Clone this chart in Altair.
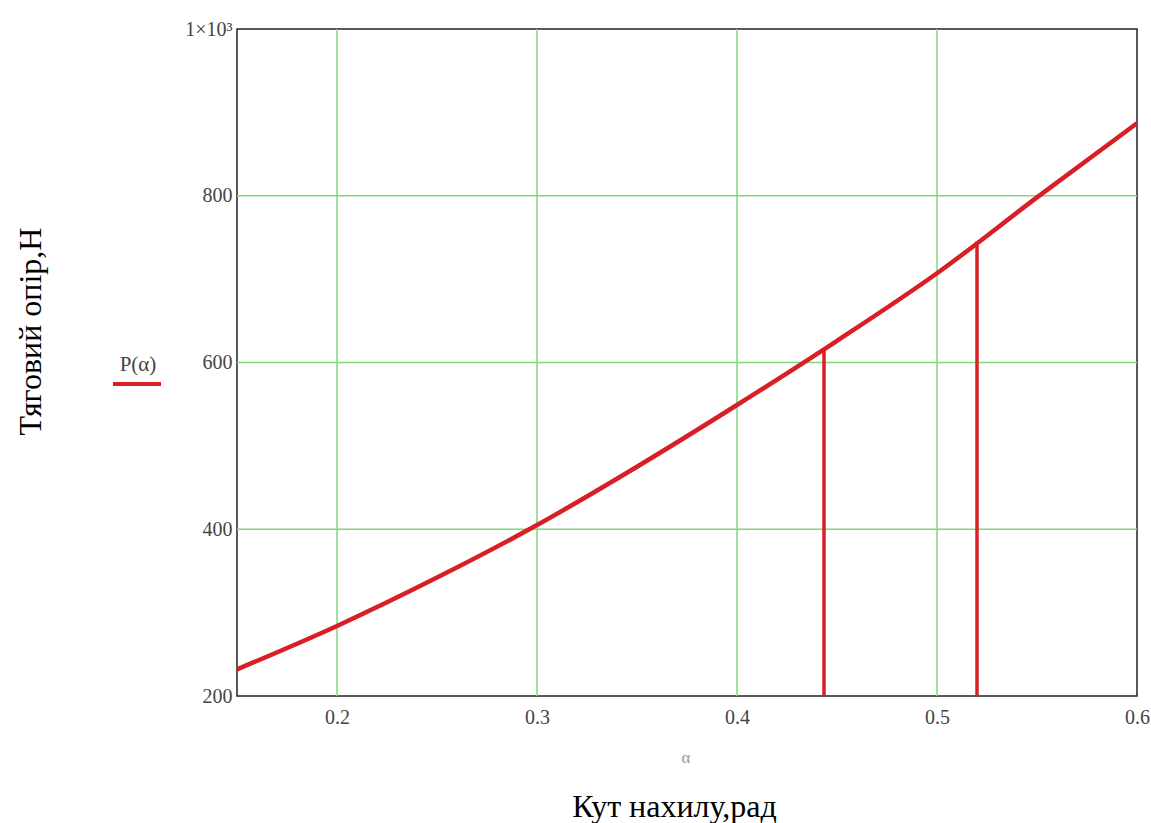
import altair as alt
import pandas as pd

# Curve P(alpha)
alpha = [0.15, 0.2, 0.25, 0.3, 0.35, 0.4, 0.45, 0.5, 0.55, 0.6]
P = [232, 284, 342, 405, 475, 549, 626, 707, 798, 887]

# Marked vertical lines
mark_alpha = [0.4435, 0.52]
mark_P = [617, 745]

# Grid positions and tick labels
grid_x = [0.2, 0.3, 0.4, 0.5]
grid_y = [400, 600, 800]
x_ticks = [0.2, 0.3, 0.4, 0.5, 0.6]
y_ticks = [200, 400, 600, 800, 1000]

FONT = "Liberation Serif"
RED = "#d81f26"
GREEN = "#7fd87f"

df = pd.DataFrame({"alpha": alpha, "P": P})
dv = pd.DataFrame({"alpha": mark_alpha, "P": mark_P, "base": [200] * len(mark_alpha)})
dgx = pd.DataFrame({"gx": grid_x})
dgy = pd.DataFrame({"gy": grid_y})

xs = alt.Scale(domain=[0.15, 0.6], nice=False, zero=False)
ys = alt.Scale(domain=[200, 1000], nice=False, zero=False)

x_axis = alt.Axis(values=x_ticks, format=".1f", grid=False, ticks=False, domain=False,
                  labelFlush=False, labelPadding=11, labelFont=FONT, labelFontSize=20,
                  labelColor="#444", title="Кут нахилу,рад", titleFont=FONT,
                  titleFontSize=32, titleFontWeight="normal", titleColor="#000",
                  titleX=437, titleAlign="center",
                  titleY=120, titleBaseline="alphabetic")
y_axis = alt.Axis(values=y_ticks, grid=False, ticks=False, domain=False,
                  labelFlush=False, labelPadding=5, labelFont=FONT, labelFontSize=20,
                  labelColor="#444",
                  labelExpr="datum.value == 1000 ? '1×10³' : datum.label",
                  title="Тяговий опір,Н", titleFont=FONT, titleFontSize=32,
                  titleFontWeight="normal", titleColor="#000", titleAngle=270,
                  titleX=-207, titleY=302, titleAlign="center", titleBaseline="middle")

gx = alt.Chart(dgx).mark_rule(color=GREEN, strokeWidth=1.5).encode(
    x=alt.X("gx:Q", scale=xs, axis=x_axis))
gy = alt.Chart(dgy).mark_rule(color=GREEN, strokeWidth=1.5).encode(
    y=alt.Y("gy:Q", scale=ys, axis=y_axis))

line = alt.Chart(df).mark_line(color=RED, strokeWidth=4.5, interpolate="monotone").encode(
    x=alt.X("alpha:Q", scale=xs),
    y=alt.Y("P:Q", scale=ys))

vlines = alt.Chart(dv).mark_rule(color=RED, strokeWidth=3.5).encode(
    x=alt.X("alpha:Q", scale=xs),
    y=alt.Y("base:Q", scale=ys),
    y2="P:Q")

legend_text = alt.Chart(pd.DataFrame({"t": ["P(α)"]})).mark_text(
    font=FONT, fontSize=21, color="#444", align="center", baseline="middle").encode(
    x=alt.value(-99), y=alt.value(336), text="t:N")
legend_line = alt.Chart(pd.DataFrame({"t": [1]})).mark_rule(
    color=RED, strokeWidth=4).encode(
    x=alt.value(-124), x2=alt.value(-76), y=alt.value(355))
alpha_text = alt.Chart(pd.DataFrame({"t": ["α"]})).mark_text(
    font=FONT, fontSize=17, color="#999", align="center", baseline="middle").encode(
    x=alt.value(449), y=alt.value(729), text="t:N")

chart = alt.layer(gx, gy, line, vlines, legend_text, legend_line, alpha_text).properties(
    width=900, height=667,
    autosize=alt.AutoSizeParams(type="none"),
    padding={"left": 237, "top": 29, "right": 14, "bottom": 127},
    background="white",
).configure_view(stroke="#222", strokeWidth=1.5)

chart.save("out.html", embed_options={"renderer": "svg", "actions": False})
